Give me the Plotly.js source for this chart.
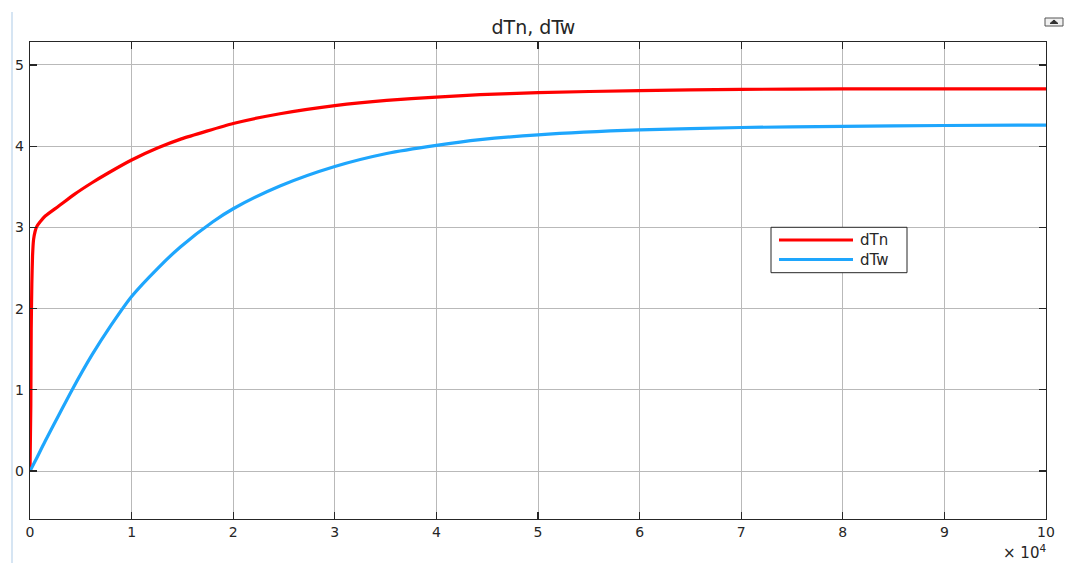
<!DOCTYPE html>
<html>
<head>
<meta charset="utf-8">
<script src="https://cdn.plot.ly/plotly-3.0.1.min.js"></script>
<style>html,body{margin:0;padding:0;background:#fff;}#chart{width:1067px;height:563px;}</style>
</head>
<body>
<div id="chart"></div>
<script>
// time in units of 1e4
var xTn = [0, 0.008, 0.012, 0.018, 0.025, 0.035, 0.05, 0.066, 0.1, 0.15, 0.28, 0.44, 0.61, 0.77, 1.0, 1.26, 1.49, 2.0, 2.46, 3.0, 3.51, 4.0, 4.43, 5.0, 6.0, 7.0, 8.0, 9.0, 10.0];
var yTn = [0, 0.8, 1.75, 2.3, 2.65, 2.85, 2.95, 3.01, 3.07, 3.14, 3.26, 3.41, 3.55, 3.67, 3.83, 3.98, 4.09, 4.28, 4.40, 4.50, 4.565, 4.605, 4.635, 4.66, 4.685, 4.70, 4.705, 4.705, 4.705];
var xTw = [0, 0.05, 0.15, 0.28, 0.41, 0.61, 0.80, 1.0, 1.26, 1.48, 1.80, 2.0, 2.46, 3.0, 3.51, 4.0, 4.43, 5.0, 6.0, 7.0, 8.0, 9.0, 10.0];
var yTw = [0, 0.12, 0.37, 0.68, 0.99, 1.43, 1.80, 2.15, 2.50, 2.76, 3.07, 3.23, 3.51, 3.75, 3.91, 4.01, 4.08, 4.14, 4.20, 4.23, 4.245, 4.255, 4.26];
var seriesNames = ['dTn', 'dTw'];
var xTicks = [0,1,2,3,4,5,6,7,8,9,10];
var yTicks = [0,1,2,3,4,5];
var titleText = 'dTn, dTw';

var redC = '#ff0000', blueC = '#1ea6fd';
var font = 'DejaVu Sans, Liberation Sans, Arial, sans-serif';

var traces = [
  {x: xTn, y: yTn, name: seriesNames[0], mode: 'lines', line: {color: redC, width: 3.2, shape: 'spline', smoothing: 0.5}},
  {x: xTw, y: yTw, name: seriesNames[1], mode: 'lines', line: {color: blueC, width: 3.2, shape: 'spline', smoothing: 0.8}}
];

function px2x(p){ return (p - 30) / 1016; }
function px2y(p){ return (519 - p) / 477; }

var axisCommon = {
  showline: true, linecolor: '#262626', linewidth: 1.3, mirror: 'ticks',
  ticks: 'inside', ticklen: 7, tickwidth: 1.2, tickcolor: '#262626',
  showgrid: true, gridcolor: '#b9b9b9', gridwidth: 1, zeroline: false,
  tickfont: {family: font, size: 14, color: '#262626'}, fixedrange: true
};

var layout = {
  width: 1067, height: 563,
  margin: {l: 30, r: 21, t: 42, b: 44},
  paper_bgcolor: '#ffffff', plot_bgcolor: '#ffffff',
  showlegend: false,
  title: {text: titleText, font: {family: font, size: 19, color: '#262626'}, x: 0.5, xanchor: 'center', y: 0.952, yanchor: 'middle'},
  xaxis: Object.assign({}, axisCommon, {range: [0, 10], tickvals: xTicks, ticktext: xTicks.map(String)}),
  yaxis: Object.assign({}, axisCommon, {range: [-0.59, 5.283], tickvals: yTicks, ticktext: yTicks.map(String), ticklabelstandoff: 2}),
  shapes: [
    // window border line on the left
    {type: 'line', xref: 'paper', yref: 'paper', x0: px2x(12), x1: px2x(12), y0: px2y(12), y1: px2y(563), line: {color: '#c9dcef', width: 1.5}},
    // legend box
    {type: 'rect', xref: 'paper', yref: 'paper', x0: px2x(771), x1: px2x(907), y0: px2y(272.7), y1: px2y(227.3), fillcolor: '#ffffff', line: {color: '#262626', width: 1}},
    {type: 'line', xref: 'paper', yref: 'paper', x0: px2x(779), x1: px2x(853), y0: px2y(240), y1: px2y(240), line: {color: redC, width: 3.2}},
    {type: 'line', xref: 'paper', yref: 'paper', x0: px2x(779), x1: px2x(853), y0: px2y(259.5), y1: px2y(259.5), line: {color: blueC, width: 3.2}},
    // small icon top right
    {type: 'rect', xref: 'paper', yref: 'paper', x0: px2x(1045), x1: px2x(1063), y0: px2y(26), y1: px2y(18), fillcolor: '#f0f0f0', line: {color: '#555555', width: 1}},
    {type: 'path', xref: 'paper', yref: 'paper', path: 'M ' + px2x(1050) + ' ' + px2y(23.5) + ' L ' + px2x(1054) + ' ' + px2y(20) + ' L ' + px2x(1058) + ' ' + px2y(23.5) + ' Z', fillcolor: '#333333', line: {color: '#333333', width: 1}}
  ],
  annotations: [
    {xref: 'paper', yref: 'paper', x: px2x(858), y: px2y(240), xanchor: 'left', yanchor: 'middle', text: seriesNames[0], showarrow: false, font: {family: font, size: 15, color: '#262626'}},
    {xref: 'paper', yref: 'paper', x: px2x(858), y: px2y(259.5), xanchor: 'left', yanchor: 'middle', text: seriesNames[1], showarrow: false, font: {family: font, size: 15, color: '#262626'}},
    {xref: 'paper', yref: 'paper', x: px2x(1048), y: px2y(552), xanchor: 'right', yanchor: 'middle', text: '\u00d7 10<sup>4</sup>', showarrow: false, font: {family: font, size: 15, color: '#262626'}}
  ]
};

Plotly.newPlot('chart', traces, layout, {displayModeBar: false, staticPlot: true});
</script>
</body>
</html>
